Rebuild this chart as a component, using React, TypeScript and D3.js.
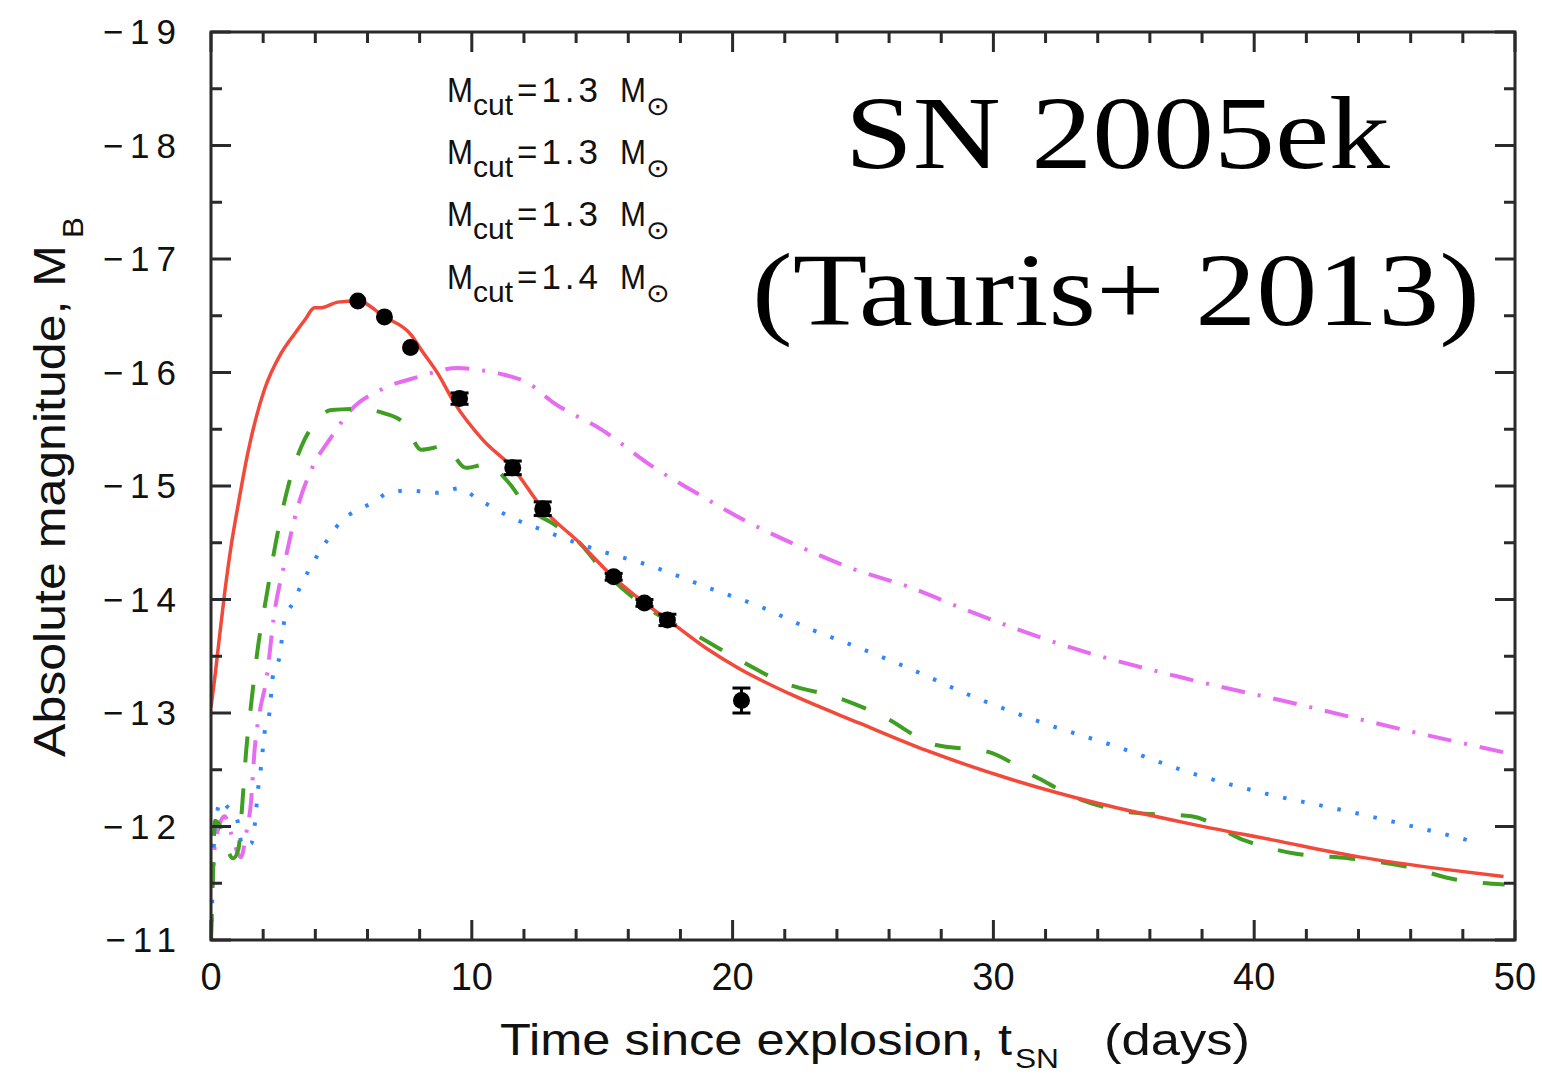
import React from "react";
import * as d3 from "d3";

// Model light curves: [days since explosion, absolute B magnitude]
const modelRed: [number, number][] = [
  [0, -13.05], [0.15, -13.32], [0.33, -13.68], [0.52, -14.05], [0.77, -14.47], [1.03, -14.82],
  [1.41, -15.29], [2.05, -15.85], [2.69, -16.17], [3.2, -16.34], [3.59, -16.46], [3.97, -16.57],
  [4.22, -16.57], [4.86, -16.62], [5.63, -16.63], [6.65, -16.49], [7.68, -16.33], [8.06, -16.2],
  [8.7, -15.99], [9.34, -15.73], [10.45, -15.4], [11.57, -15.16], [12.72, -14.8], [14.13, -14.5],
  [15.41, -14.2], [16.62, -13.97], [17.52, -13.82], [18.99, -13.57], [20.26, -13.39], [22.18, -13.17],
  [24.87, -12.91], [27.43, -12.67], [30.76, -12.41], [34.08, -12.2], [37.41, -12.03],
  [40.74, -11.88], [44.07, -11.73], [47.4, -11.62], [49.56, -11.56],
];

const modelGreen: [number, number][] = [
  [0, -11], [0.08, -11.6], [0.15, -12.05], [0.35, -12.0], [0.55, -11.85], [0.85, -11.72],
  [1.05, -11.8], [1.2, -12.2], [1.35, -12.67], [1.54, -13.08], [1.8, -13.58], [2.12, -14.02],
  [2.5, -14.52], [2.95, -14.99], [3.59, -15.41], [3.97, -15.55], [4.61, -15.67], [5.63, -15.68],
  [6.65, -15.64], [7.42, -15.55], [8.06, -15.32], [8.95, -15.35], [9.78, -15.16], [10.55, -15.19],
  [11.45, -15.02], [12.09, -14.82], [13.1, -14.67], [14.13, -14.5], [14.9, -14.29], [16.17, -14.02],
  [17.7, -13.79], [18.72, -13.67], [20.0, -13.5], [22.04, -13.26], [24.1, -13.13], [25.76, -12.97],
  [27.76, -12.72], [29.77, -12.66], [31.6, -12.44], [33.43, -12.23], [35.44, -12.12], [37.6, -12.09],
  [39.6, -11.88], [41.6, -11.76], [43.6, -11.72], [45.77, -11.65], [47.77, -11.53], [49.6, -11.49],
];

const modelMagenta: [number, number][] = [
  [0, -11], [0.05, -11.5], [0.2, -11.9], [0.52, -12.09], [0.77, -11.94], [1.15, -11.73],
  [1.35, -11.94], [1.54, -12.23], [1.67, -12.67], [1.86, -13.0], [2.12, -13.29], [2.43, -13.88],
  [2.82, -14.32], [3.33, -14.82], [3.84, -15.14], [4.61, -15.43], [5.37, -15.67], [6.53, -15.85],
  [7.93, -15.96], [9.46, -16.04], [10.36, -16.02], [11.06, -15.99], [12.21, -15.9], [13.1, -15.74],
  [15.02, -15.49], [16.94, -15.17], [18.6, -14.94], [20.52, -14.69], [22.44, -14.48], [24.5, -14.28],
  [26.77, -14.11], [28.93, -13.91], [32.93, -13.58], [37.27, -13.31], [41.44, -13.09],
  [45.77, -12.85], [49.85, -12.64],
];

const modelBlue: [number, number][] = [
  [0, -11], [0.07, -11.5], [0.13, -11.94], [0.39, -12.23], [0.64, -12.17], [0.97, -12.09],
  [1.22, -11.82], [1.54, -11.85], [1.67, -12.0], [1.8, -12.32], [1.92, -12.53], [2.05, -12.82],
  [2.24, -13.0], [2.37, -13.32], [2.63, -13.5], [2.82, -13.82], [3.14, -13.97], [3.46, -14.13],
  [3.78, -14.27], [4.16, -14.42], [4.54, -14.55], [4.99, -14.69], [5.63, -14.79], [6.27, -14.86],
  [6.78, -14.94], [7.55, -14.96], [8.7, -14.94], [9.53, -14.98], [10.2, -14.89], [11.45, -14.73],
  [12.85, -14.6], [14.77, -14.44], [16.94, -14.29], [18.99, -14.11], [21.03, -13.94], [23.08, -13.73],
  [24.45, -13.61], [26.6, -13.41], [29.27, -13.14], [31.93, -12.91], [34.77, -12.7], [37.6, -12.47],
  [40.44, -12.29], [43.27, -12.15], [46.1, -12.0], [48.36, -11.87],
];

// Observed photometry of SN 2005ek
const obsTime = [5.63, 6.65, 7.65, 9.53, 11.57, 12.72, 15.44, 16.62, 17.5, 20.34];
const obsMag = [-16.63, -16.49, -16.22, -15.77, -15.16, -14.8, -14.2, -13.97, -13.82, -13.11];
const obsErr = [0, 0, 0, 0.05, 0.06, 0.06, 0.03, 0.03, 0.05, 0.11];

const legendMass = ["1.3", "1.3", "1.3", "1.4"];
const xTickLabels = [0, 10, 20, 30, 40, 50];
const yTickLabels = [-19, -18, -17, -16, -15, -14, -13, -12, -11];

const SANS = "'Liberation Sans', Arial, Helvetica, sans-serif";
const SERIF = "'Liberation Serif', 'Times New Roman', serif";

export default function App() {
  const W = 1542;
  const H = 1075;
  const x = d3.scaleLinear().domain([0, 50]).range([211, 1515]);
  const y = d3.scaleLinear().domain([-19, -11]).range([32, 940]);
  const [x0, x1] = x.range();
  const [y0, y1] = y.range();

  const line = d3
    .line<[number, number]>()
    .x((d) => x(d[0]))
    .y((d) => y(d[1]))
    .curve(d3.curveMonotoneX);

  const xMinor = d3.range(0, 50.01, 2).filter((v) => v % 10 !== 0);
  const yMinor = d3.range(-18.5, -11, 1);
  const axisColor = "#2a2a2a";
  const majorLen = 20;
  const minorLen = 11;

  const series = [
    { data: modelMagenta, color: "#e66cf0", dash: "24,13,3,13", width: 4 },
    { data: modelBlue, color: "#2f86ff", dash: "3.5,15", width: 4 },
    { data: modelGreen, color: "#3f9f22", dash: "26,26", width: 4 },
    { data: modelRed, color: "#f2493a", dash: undefined, width: 3.5 },
  ];

  const legendBaselines = [102, 164, 226, 289];

  return (
    <svg
      width={W}
      height={H}
      viewBox={`0 0 ${W} ${H}`}
      style={{ position: "absolute", left: 0, top: 0, background: "#fff" }}
    >
      <defs>
        <clipPath id="plot-area">
          <rect x={x0} y={y0} width={x1 - x0} height={y1 - y0} />
        </clipPath>
      </defs>
      <rect width={W} height={H} fill="#fff" />

      {/* model curves */}
      <g clipPath="url(#plot-area)">
        {series.map((s, i) => (
          <path
            key={i}
            d={line(s.data) || ""}
            fill="none"
            stroke={s.color}
            strokeWidth={s.width}
            strokeDasharray={s.dash}
            strokeLinejoin="round"
          />
        ))}
      </g>

      {/* observed points with error bars */}
      <g fill="#000" stroke="#000">
        {obsTime.map((t, i) => {
          const cx = x(t);
          const cy = y(obsMag[i]);
          const e = obsErr[i];
          const top = y(obsMag[i] - e);
          const bot = y(obsMag[i] + e);
          return (
            <g key={i}>
              {e > 0 && (
                <g strokeWidth={3}>
                  <line x1={cx} x2={cx} y1={top} y2={bot} />
                  <line x1={cx - 9} x2={cx + 9} y1={top} y2={top} />
                  <line x1={cx - 9} x2={cx + 9} y1={bot} y2={bot} />
                </g>
              )}
              <circle cx={cx} cy={cy} r={8.5} stroke="none" />
            </g>
          );
        })}
      </g>

      {/* frame and ticks */}
      <g stroke={axisColor} strokeWidth={3} fill="none">
        <rect x={x0} y={y0} width={x1 - x0} height={y1 - y0} />
        {xTickLabels.map((v) => (
          <g key={"xM" + v}>
            <line x1={x(v)} x2={x(v)} y1={y1} y2={y1 - majorLen} />
            <line x1={x(v)} x2={x(v)} y1={y0} y2={y0 + majorLen} />
          </g>
        ))}
        {xMinor.map((v) => (
          <g key={"xm" + v}>
            <line x1={x(v)} x2={x(v)} y1={y1} y2={y1 - minorLen} />
            <line x1={x(v)} x2={x(v)} y1={y0} y2={y0 + minorLen} />
          </g>
        ))}
        {yTickLabels.map((v) => (
          <g key={"yM" + v}>
            <line x1={x0} x2={x0 + majorLen} y1={y(v)} y2={y(v)} />
            <line x1={x1} x2={x1 - majorLen} y1={y(v)} y2={y(v)} />
          </g>
        ))}
        {yMinor.map((v) => (
          <g key={"ym" + v}>
            <line x1={x0} x2={x0 + minorLen} y1={y(v)} y2={y(v)} />
            <line x1={x1} x2={x1 - minorLen} y1={y(v)} y2={y(v)} />
          </g>
        ))}
      </g>

      {/* tick labels */}
      <g fontFamily={SANS} fill="#111">
        {yTickLabels.map((v) => (
          <text
            key={"yl" + v}
            x={183}
            y={y(v) + 12}
            fontSize={35}
            textAnchor="end"
            letterSpacing={7}
          >
            {"\u2212" + Math.abs(v)}
          </text>
        ))}
        {xTickLabels.map((v) => (
          <text key={"xl" + v} x={x(v)} y={990} fontSize={38} textAnchor="middle">
            {v}
          </text>
        ))}
      </g>

      {/* axis titles */}
      <g fontFamily={SANS} fill="#111">
        <text x={500} y={1055} fontSize={44} textLength={512} lengthAdjust="spacingAndGlyphs">
          Time since explosion, t
        </text>
        <text x={1015} y={1068} fontSize={27} textLength={44} lengthAdjust="spacingAndGlyphs">
          SN
        </text>
        <text x={1104} y={1055} fontSize={44} textLength={146} lengthAdjust="spacingAndGlyphs">
          (days)
        </text>

        <g transform="translate(65,757) rotate(-90)">
          <text x={0} y={0} fontSize={45} textLength={512} lengthAdjust="spacingAndGlyphs">
            Absolute magnitude, M
          </text>
        </g>
        <g transform="translate(83,238) rotate(-90)">
          <text x={0} y={0} fontSize={29} textLength={21} lengthAdjust="spacingAndGlyphs">
            B
          </text>
        </g>
      </g>

      {/* legend text */}
      <g fontFamily={SANS} fill="#111">
        {legendMass.map((m, i) => {
          const b = legendBaselines[i];
          return (
            <g key={"lg" + i}>
              <text x={447} y={b} fontSize={35} textLength={26} lengthAdjust="spacingAndGlyphs">
                M
              </text>
              <text x={473} y={b + 13} fontSize={29} textLength={40} lengthAdjust="spacingAndGlyphs">
                cut
              </text>
              <text x={517} y={b} fontSize={35} textLength={81} lengthAdjust="spacing">
                {"=" + m}
              </text>
              <text x={620} y={b} fontSize={35} textLength={26} lengthAdjust="spacingAndGlyphs">
                M
              </text>
              <text
                x={646}
                y={b + 13}
                fontSize={26}
                fontFamily="'DejaVu Sans', sans-serif"
                textLength={24}
                lengthAdjust="spacingAndGlyphs"
              >
                {"\u2299"}
              </text>
            </g>
          );
        })}
      </g>

      {/* title annotation */}
      <g fontFamily={SERIF} fill="#000">
        <text x={845} y={168} fontSize={104} textLength={545} lengthAdjust="spacingAndGlyphs">
          SN 2005ek
        </text>
        <text x={752} y={325} fontSize={104} textLength={728} lengthAdjust="spacingAndGlyphs">
          (Tauris+ 2013)
        </text>
      </g>
    </svg>
  );
}
